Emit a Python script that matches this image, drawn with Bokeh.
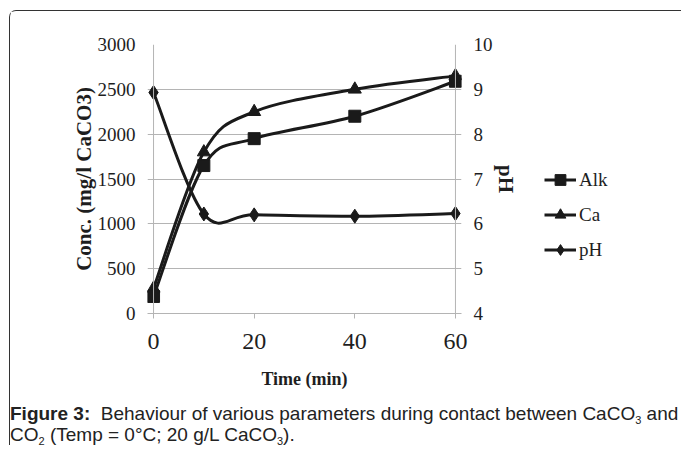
from bokeh.plotting import figure
from bokeh.models import (Range1d, LinearAxis, Legend, LegendItem, FixedTicker,
                          Div, Span, ColumnDataSource)
from bokeh.layouts import column, row
from bokeh.embed import file_html
from bokeh.resources import INLINE

# ---- data ----
time_min = [0, 10, 20, 40, 60]
alk = [190, 1650, 1950, 2200, 2590]
ca = [280, 1800, 2250, 2500, 2650]
ph = [8.93, 6.22, 6.20, 6.17, 6.23]

x_ticks = [0, 20, 40, 60]
conc_ticks = [0, 500, 1000, 1500, 2000, 2500, 3000]
ph_ticks = [4, 5, 6, 7, 8, 9, 10]
series_names = ["Alk", "Ca", "pH"]

SERIF = "Liberation Serif"
INK = "#1a1a1a"
TXT = "#1e1e1e"
GRID = "#b4b4b4"


def smooth_segments(xs, ys):
    """Catmull-Rom style cubic Bezier segments (like Excel's smoothed line)."""
    n = len(xs)
    d = dict(x0=[], y0=[], x1=[], y1=[], cx0=[], cy0=[], cx1=[], cy1=[])
    for i in range(n - 1):
        a = max(i - 1, 0)
        b = min(i + 2, n - 1)
        d["x0"].append(xs[i]); d["y0"].append(ys[i])
        d["x1"].append(xs[i + 1]); d["y1"].append(ys[i + 1])
        d["cx0"].append(xs[i] + (xs[i + 1] - xs[a]) / 6.0)
        d["cy0"].append(ys[i] + (ys[i + 1] - ys[a]) / 6.0)
        d["cx1"].append(xs[i + 1] - (xs[b] - xs[i]) / 6.0)
        d["cy1"].append(ys[i + 1] - (ys[b] - ys[i]) / 6.0)
    return d


p = figure(width=530, height=384, output_backend="svg", toolbar_location=None,
           x_range=Range1d(-1.2, 61.2), y_range=Range1d(0, 3000),
           min_border_left=137, min_border_right=79,
           min_border_top=33, min_border_bottom=82)
p.extra_y_ranges = {"ph": Range1d(4, 10)}
p.outline_line_color = None

# grid
p.xgrid.visible = False
p.ygrid.grid_line_color = GRID
p.ygrid.grid_line_width = 1
p.ygrid.ticker = FixedTicker(ticks=conc_ticks)

# x axis
xa = p.xaxis[0]
xa.ticker = FixedTicker(ticks=x_ticks)
xa.axis_label = "Time (min)"
xa.axis_label_text_font = SERIF
xa.axis_label_text_font_style = "bold"
xa.axis_label_text_font_size = "18px"
xa.axis_label_text_color = TXT
xa.axis_label_standoff = 17
xa.major_label_text_font = SERIF
xa.major_label_text_font_size = "24px"
xa.major_label_text_color = TXT
xa.major_label_standoff = 15
xa.axis_line_color = GRID
xa.major_tick_line_color = GRID
xa.major_tick_out = 5
xa.major_tick_in = 0
xa.minor_tick_line_color = None

# left axis
ya = p.yaxis[0]
ya.ticker = FixedTicker(ticks=conc_ticks)
ya.axis_label = "Conc. (mg/l CaCO3)"
ya.axis_label_text_font = SERIF
ya.axis_label_text_font_style = "bold"
ya.axis_label_text_font_size = "21px"
ya.axis_label_text_color = TXT
ya.axis_label_standoff = -1
ya.major_label_text_font = SERIF
ya.major_label_text_font_size = "19px"
ya.major_label_text_color = TXT
ya.major_label_standoff = 12
ya.axis_line_color = None
ya.major_tick_line_color = None
ya.major_tick_out = 0
ya.major_tick_in = 0
ya.minor_tick_line_color = None

# right axis
yr = LinearAxis(y_range_name="ph", ticker=FixedTicker(ticks=ph_ticks),
                axis_label="pH")
yr.axis_label_text_font = SERIF
yr.axis_label_text_font_style = "bold"
yr.axis_label_text_font_size = "21px"
yr.axis_label_text_color = TXT
yr.axis_label_standoff = -2
yr.major_label_text_font = SERIF
yr.major_label_text_font_size = "19px"
yr.major_label_text_color = TXT
yr.major_label_standoff = 12
yr.axis_line_color = None
yr.major_tick_line_color = None
yr.major_tick_out = 0
yr.major_tick_in = 0
yr.minor_tick_line_color = None
try:
    yr.axis_label_orientation = "vertical"
except Exception:
    pass
p.add_layout(yr, "right")

# vertical axis lines at x = 0 and x = 60
p.add_layout(Span(location=time_min[0], dimension="height", line_color=GRID, line_width=1))
p.add_layout(Span(location=time_min[-1], dimension="height", line_color=GRID, line_width=1))

# series
lw = 3
bz = dict(x0="x0", y0="y0", x1="x1", y1="y1", cx0="cx0", cy0="cy0", cx1="cx1", cy1="cy1",
          line_color=INK, line_width=lw)
seg_alk = smooth_segments(time_min, alk)
seg_ca = smooth_segments(time_min, ca)
seg_ph = smooth_segments(time_min, ph)
p.bezier(source=ColumnDataSource(seg_alk), **bz)
p.bezier(source=ColumnDataSource(seg_ca), **bz)
p.bezier(source=ColumnDataSource(seg_ph), y_range_name="ph", **bz)

mk = dict(fill_color=INK, line_color=INK)
p.scatter(time_min, ca, marker="triangle", size=13, **mk)
p.scatter(time_min, alk, marker="square", size=12, **mk)
p.scatter(time_min, ph, marker="diamond", size=14, y_range_name="ph", **mk)

# legend panel (separate canvas to the right so it is not clipped by the frame)
lg = figure(width=141, height=384, output_backend="svg", toolbar_location=None,
            x_range=Range1d(0, 1), y_range=Range1d(0, 1),
            x_axis_type=None, y_axis_type=None, min_border=0)
lg.outline_line_color = None
lg.grid.visible = False
r_alk = [lg.bezier(source=ColumnDataSource(seg_alk), visible=False, **bz),
         lg.scatter(time_min, alk, marker="square", size=12, visible=False, **mk)]
r_ca = [lg.bezier(source=ColumnDataSource(seg_ca), visible=False, **bz),
        lg.scatter(time_min, ca, marker="triangle", size=13, visible=False, **mk)]
r_ph = [lg.bezier(source=ColumnDataSource(seg_ph), visible=False, **bz),
        lg.scatter(time_min, ph, marker="diamond", size=14, visible=False, **mk)]

legend = Legend(items=[
    LegendItem(label=series_names[0], renderers=r_alk),
    LegendItem(label=series_names[1], renderers=r_ca),
    LegendItem(label=series_names[2], renderers=r_ph),
], location=(4, 50), padding=0, margin=0, spacing=8,
    glyph_width=32, glyph_height=27, label_standoff=3,
    label_text_font=SERIF, label_text_font_size="19px", label_text_color=TXT,
    border_line_color=None, background_fill_alpha=0, inactive_fill_alpha=0)
lg.add_layout(legend, "center")

SUB = '<sub style="font-size:11px;vertical-align:-4px;line-height:0">{}</sub>'
caption = Div(
    text=('<b>Figure 3:</b>&nbsp; Behaviour of various parameters during contact between '
          'CaCO' + SUB.format("3") + ' and<br>'
          'CO' + SUB.format("2") + ' (Temp = 0°C; 20 g/L CaCO' + SUB.format("3") + ').'),
    width=670, margin=0,
    styles={"font-family": "Liberation Sans", "font-size": "19px", "color": "#222222",
            "line-height": "21px", "padding-left": "0px", "padding-top": "8px",
            "white-space": "nowrap"})

layout = column(row(p, lg, spacing=0), caption, spacing=0,
                styles={"border-left": "1px solid #333333", "border-top": "1px solid #333333",
                        "border-top-left-radius": "7px",
                        "margin-left": "9px", "margin-top": "10px"})

open("out.html", "w").write(file_html(layout, INLINE))
